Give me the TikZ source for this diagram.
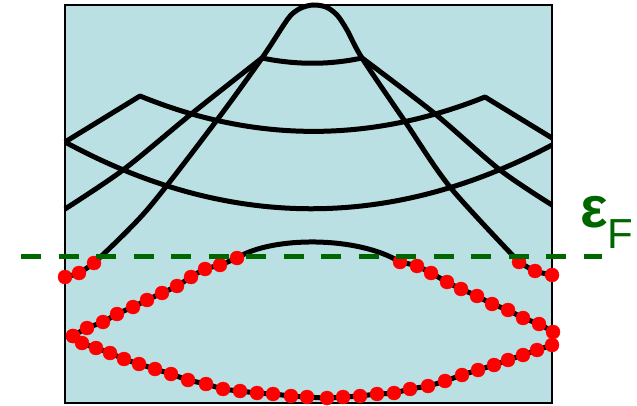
\documentclass[tikz,border=0pt]{standalone}
\usepackage{fontspec}
\newfontfamily\labelfont{Liberation Sans}
\usetikzlibrary{positioning}
\definecolor{panel-blue}{RGB}{187,224,227}
\definecolor{fermi-green}{RGB}{0,102,0}

\begin{document}
\begin{tikzpicture}[x=1pt, y=-1pt,
    band/.style={line width=5pt, line join=round},
    filled/.style={mark=*, mark size=7pt, mark options={draw=red, fill=red, line width=0.4pt}},
    fermi/.style={fermi-green, line width=5pt, dash pattern=on 20pt off 17.5pt}]
    \useasboundingbox (0,0) rectangle (637,406);
    \fill[panel-blue] (65,5) rectangle (552,403);
    \draw[line width=2pt] (65,5) rectangle (552,403);
    \draw[band] (65,142) -- (140,96) .. controls (255,143) and (370,143) .. (485,97) -- (552,138);
    \draw[band] (65,142) .. controls (227,230) and (390,231) .. (552,145);
    \draw[band] (262,58) .. controls (296,65) and (329,65) .. (362,58);
    \draw[band] plot[smooth] coordinates {(65,209) (123,170) (190,115) (262,58)};
    \draw[band] plot[smooth] coordinates {(362,58) (434,113) (500,170) (552,205)};
    \draw[band] plot[smooth] coordinates {(94,263) (147,210) (217,120) (262,58) (283,26) (291,15) (301,8) (313,5) (326,7) (337,15) (347,30) (362,58) (404,120) (450,187) (519,262)};
    \draw[band] (237,258) .. controls (272,236) and (358,236) .. (400,262);
    \draw[band, filled] plot[smooth] coordinates {(65,277) (79,273) (94,263)};
    \draw[band, filled] plot[smooth] coordinates {(519,262) (535,271) (552,275)};
    \draw[band, filled] plot[smooth] coordinates {(73,336) (87,328) (103,322) (117,314) (133,307) (147,300) (162,293) (177,286) (191,277) (205,269) (220,265) (237,258)};
    \draw[band, filled] plot[smooth] coordinates {(400,262) (417,266) (431,273) (447,282) (461,289) (477,296) (492,304) (508,310) (523,318) (539,324) (553,332)};
    \draw[band, filled] plot[smooth] coordinates {(73,336) (82,343) (96,348) (110,353) (124,359) (139,364) (155,369) (171,374) (188,380) (206,384) (223,389) (240,391) (257,393) (273,394) (291,396) (307,397) (327,398) (343,397) (360,396) (377,394) (394,393) (410,389) (428,386) (445,381) (462,375) (478,370) (494,365) (508,360) (523,355) (537,350) (552,345)};
    \coordinate (fermi west) at (21,256);
    \coordinate (fermi east) at (602,256);
    \draw[fermi] (fermi west) -- (fermi east);
    \node[fermi-green, anchor=base west, inner sep=0pt] (ef) at (580,227) {\labelfont\fontsize{58pt}{58pt}\selectfont\bfseries ε\fontsize{42pt}{42pt}\selectfont\mdseries\raisebox{-21pt}{F}};
\end{tikzpicture}
\end{document}
